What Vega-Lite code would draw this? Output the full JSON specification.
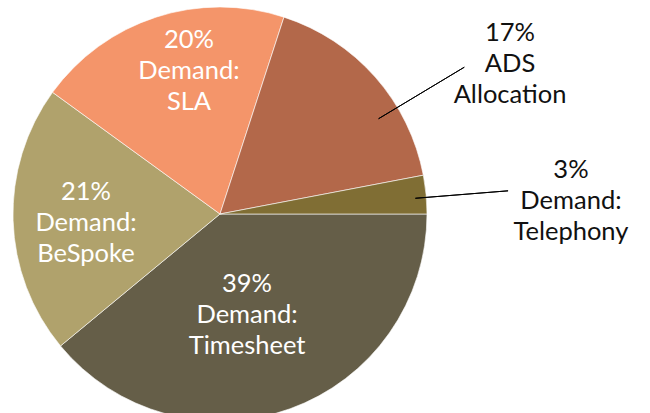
{
  "$schema": "https://vega.github.io/schema/vega-lite/v6.json",
  "width": 440,
  "height": 428,
  "autosize": {"type": "none"},
  "padding": {"left": 0, "top": 0, "right": 210, "bottom": 0},
  "background": "#ffffff",
  "config": {"view": {"stroke": null}},
  "data": {
    "values": [
      {"category": "Demand: Timesheet", "value": 39, "label": "39%\nDemand:\nTimesheet", "ord": 1},
      {"category": "Demand: BeSpoke", "value": 21, "label": "21%\nDemand:\nBeSpoke", "ord": 2},
      {"category": "Demand: SLA", "value": 20, "label": "20%\nDemand:\nSLA", "ord": 3},
      {"category": "ADS Allocation", "value": 17, "label": "17%\nADS\nAllocation", "ord": 4},
      {"category": "Demand: Telephony", "value": 3, "label": "3%\nDemand:\nTelephony", "ord": 5}
    ]
  },
  "encoding": {
    "theta": {"field": "value", "type": "quantitative", "stack": true, "scale": {"domain": [0, 100], "range": [1.5707963, 7.8539816]}},
    "order": {"field": "ord", "type": "quantitative"}
  },
  "layer": [
    {
      "mark": {"type": "arc", "radius": 207, "stroke": "#ffffff", "strokeWidth": 0.6},
      "encoding": {
        "color": {
          "field": "category",
          "type": "nominal",
          "legend": null,
          "scale": {
            "domain": ["Demand: Timesheet", "Demand: BeSpoke", "Demand: SLA", "ADS Allocation", "Demand: Telephony"],
            "range": ["#655E48", "#B0A26C", "#F4956A", "#B3684A", "#806E34"]
          }
        }
      }
    },
    {
      "transform": [{"stack": "value", "groupby": [], "as": ["v0", "v1"], "sort": [{"field": "ord", "order": "ascending"}]}],
      "mark": {"type": "arc", "radius": 285, "radius2": 185, "thetaOffset": -0.3526, "theta2Offset": -0.3526, "fillOpacity": 0, "fill": "#ffffff", "stroke": "#000000", "strokeWidth": 1},
      "encoding": {
        "theta": {"field": "v1", "type": "quantitative", "scale": {"domain": [0, 100], "range": [1.5707963, 7.8539816]}},
        "theta2": {"field": "v1"},
        "strokeOpacity": {"condition": {"test": "datum.ord === 4", "value": 1}, "value": 0}
      }
    },
    {
      "transform": [{"stack": "value", "groupby": [], "as": ["v0", "v1"], "sort": [{"field": "ord", "order": "ascending"}]}],
      "mark": {"type": "arc", "radius": 289, "radius2": 196, "thetaOffset": -0.0803, "theta2Offset": -0.0803, "fillOpacity": 0, "fill": "#ffffff", "stroke": "#000000", "strokeWidth": 1},
      "encoding": {
        "theta": {"field": "v1", "type": "quantitative", "scale": {"domain": [0, 100], "range": [1.5707963, 7.8539816]}},
        "theta2": {"field": "v1"},
        "strokeOpacity": {"condition": {"test": "datum.ord === 5", "value": 1}, "value": 0}
      }
    },
    {
      "mark": {"type": "text", "radius": 104.5, "thetaOffset": 0.0838, "dy": -31, "font": "Lato", "fontSize": 25.5, "lineHeight": 31, "lineBreak": "\n", "align": "center", "baseline": "middle", "fill": "#ffffff"},
      "encoding": {"text": {"condition": {"test": "datum.ord === 1", "field": "label"}, "value": ""}}
    },
    {
      "mark": {"type": "text", "radius": 134.3, "thetaOffset": -0.0349, "dy": -31, "font": "Lato", "fontSize": 25.5, "lineHeight": 31, "lineBreak": "\n", "align": "center", "baseline": "middle", "fill": "#ffffff"},
      "encoding": {"text": {"condition": {"test": "datum.ord === 2", "field": "label"}, "value": ""}}
    },
    {
      "mark": {"type": "text", "radius": 146.8, "thetaOffset": 0.1012, "dy": -31, "font": "Lato", "fontSize": 25.5, "lineHeight": 31, "lineBreak": "\n", "align": "center", "baseline": "middle", "fill": "#ffffff"},
      "encoding": {"text": {"condition": {"test": "datum.ord === 3", "field": "label"}, "value": ""}}
    },
    {
      "mark": {"type": "text", "radius": 326.7, "thetaOffset": 0.2443, "dy": -31, "font": "Lato", "fontSize": 25.5, "lineHeight": 31, "lineBreak": "\n", "align": "center", "baseline": "middle", "fill": "#111111"},
      "encoding": {"text": {"condition": {"test": "datum.ord === 4", "field": "label"}, "value": ""}}
    },
    {
      "mark": {"type": "text", "radius": 351.2, "thetaOffset": 0.0576, "dy": -31, "font": "Lato", "fontSize": 25.5, "lineHeight": 31, "lineBreak": "\n", "align": "center", "baseline": "middle", "fill": "#111111"},
      "encoding": {"text": {"condition": {"test": "datum.ord === 5", "field": "label"}, "value": ""}}
    }
  ]
}
